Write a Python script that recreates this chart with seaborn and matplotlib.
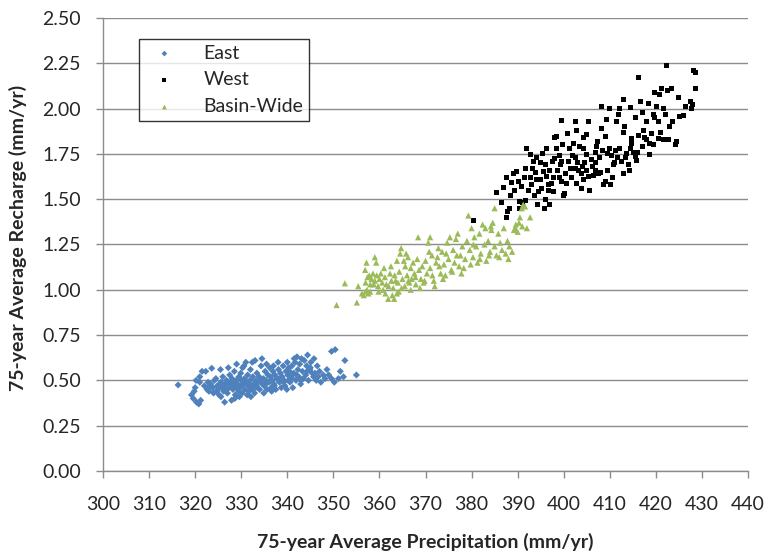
import matplotlib
matplotlib.use("Agg")
import matplotlib.pyplot as plt
import seaborn as sns
import pandas as pd

# East sub-basin: precipitation (mm/yr), recharge (mm/yr)
east_points = [
    (316.3, 0.475), (319.2, 0.42), (319.6, 0.40), (320.3, 0.38), (320.8, 0.37), (321.2, 0.39), (320.0, 0.46),
    (319.8, 0.44), (320.2, 0.50), (321.0, 0.52), (321.5, 0.55), (322.3, 0.55), (321.0, 0.49), (322.0, 0.47),
    (322.6, 0.45), (322.8, 0.49), (323.0, 0.44), (323.4, 0.48), (323.6, 0.567), (323.8, 0.46), (324.0, 0.43),
    (324.2, 0.50), (324.5, 0.51), (324.8, 0.47), (325.0, 0.45), (325.2, 0.42), (325.5, 0.56), (325.6, 0.49),
    (325.9, 0.46), (326.0, 0.52), (326.2, 0.44), (326.4, 0.38), (326.6, 0.48), (326.8, 0.50), (327.0, 0.43),
    (327.2, 0.57), (327.3, 0.46), (327.5, 0.53), (327.7, 0.49), (327.9, 0.39), (328.0, 0.51), (328.2, 0.45),
    (328.4, 0.47), (328.5, 0.55), (328.7, 0.42), (328.9, 0.50), (329.0, 0.59), (329.2, 0.48), (329.4, 0.44),
    (329.5, 0.52), (329.7, 0.46), (329.9, 0.54), (330.0, 0.50), (330.2, 0.43), (330.3, 0.57), (330.5, 0.48),
    (330.7, 0.51), (330.8, 0.45), (331.0, 0.60), (331.2, 0.49), (331.4, 0.53), (331.5, 0.47), (331.7, 0.44),
    (331.9, 0.50), (332.0, 0.56), (332.2, 0.46), (332.4, 0.60), (332.5, 0.52), (332.7, 0.48), (332.9, 0.43),
    (333.0, 0.61), (333.2, 0.50), (333.4, 0.54), (333.5, 0.46), (333.7, 0.49), (333.9, 0.52), (334.0, 0.45),
    (334.3, 0.58), (334.5, 0.62), (334.6, 0.48), (334.8, 0.51), (335.0, 0.47), (335.2, 0.55), (335.4, 0.50),
    (335.6, 0.45), (335.8, 0.53), (336.0, 0.49), (336.2, 0.57), (336.4, 0.52), (336.5, 0.46), (336.7, 0.50),
    (336.9, 0.55), (337.1, 0.48), (337.3, 0.53), (337.5, 0.45), (337.7, 0.51), (338.0, 0.60), (338.1, 0.56),
    (338.3, 0.49), (338.5, 0.54), (338.7, 0.46), (338.9, 0.52), (339.1, 0.58), (339.3, 0.50), (339.5, 0.47),
    (339.7, 0.55), (339.9, 0.45), (340.1, 0.53), (340.3, 0.57), (340.5, 0.55), (340.6, 0.49), (340.8, 0.52),
    (341.0, 0.58), (341.2, 0.46), (341.4, 0.54), (341.7, 0.60), (341.9, 0.50), (342.1, 0.63), (342.3, 0.56),
    (342.5, 0.52), (342.7, 0.59), (342.9, 0.48), (343.1, 0.62), (343.3, 0.55), (343.5, 0.51), (343.7, 0.61),
    (344.0, 0.53), (344.2, 0.58), (344.4, 0.64), (344.6, 0.50), (344.9, 0.56), (345.1, 0.60), (345.4, 0.54),
    (345.7, 0.52), (346.0, 0.54), (346.3, 0.50), (346.7, 0.52), (347.0, 0.55), (347.3, 0.49), (347.8, 0.53),
    (348.2, 0.51), (348.6, 0.56), (349.0, 0.53), (349.6, 0.51), (349.6, 0.66), (350.4, 0.67), (350.2, 0.49),
    (351.1, 0.51), (351.5, 0.55), (352.2, 0.52), (352.5, 0.61), (355.0, 0.53),
    (323.2, 0.47), (324.6, 0.44), (325.3, 0.48), (326.1, 0.47), (326.9, 0.45), (327.6, 0.48), (328.3, 0.49),
    (329.1, 0.46), (330.1, 0.47), (330.9, 0.49), (331.8, 0.48), (332.6, 0.45), (333.3, 0.47), (334.2, 0.50),
    (335.3, 0.48), (336.3, 0.50), (337.2, 0.47), (338.2, 0.51), (339.2, 0.49), (340.2, 0.50), (341.1, 0.51),
    (342.0, 0.53), (343.0, 0.50), (344.3, 0.55), (345.0, 0.57), (346.5, 0.58), (345.8, 0.62), (341.5, 0.62),
    (340.0, 0.60), (337.0, 0.58), (335.5, 0.59), (330.6, 0.58), (325.6, 0.41), (328.6, 0.40), (329.6, 0.41),
    (331.3, 0.42), (332.1, 0.41), (334.9, 0.43), (336.6, 0.44),
]

# West sub-basin
west_points = [
    (380.4, 1.385), (387.6, 1.40), (387.9, 1.43), (388.3, 1.45), (390.5, 1.45), (385.5, 1.536), (386.9, 1.566),
    (387.6, 1.62), (388.7, 1.59), (389.0, 1.64), (389.8, 1.652), (390.2, 1.60), (390.5, 1.49), (391.0, 1.48),
    (391.6, 1.495), (390.9, 1.57), (391.5, 1.62), (392.0, 1.78), (392.3, 1.55), (392.7, 1.744), (393.0, 1.58),
    (393.4, 1.707), (393.8, 1.645), (394.1, 1.606), (394.4, 1.47), (394.6, 1.54), (394.9, 1.70), (395.2, 1.56),
    (395.6, 1.652), (395.9, 1.45), (396.0, 1.50), (396.3, 1.624), (396.3, 1.78), (396.8, 1.55), (397.0, 1.47),
    (397.4, 1.588), (397.7, 1.54), (398.1, 1.726), (398.1, 1.84), (398.5, 1.845), (398.5, 1.78), (399.0, 1.62),
    (399.3, 1.69), (399.6, 1.707), (399.6, 1.597), (399.6, 1.937), (399.8, 1.80), (400.0, 1.52), (400.2, 1.53),
    (400.6, 1.588), (401.0, 1.707), (401.2, 1.78), (401.4, 1.67), (401.8, 1.74), (402.2, 1.81), (402.5, 1.67),
    (402.5, 1.928), (402.5, 1.73), (402.8, 1.588), (402.8, 1.88), (403.2, 1.66), (403.5, 1.79), (403.9, 1.643),
    (404.2, 1.78), (404.3, 1.606), (404.6, 1.70), (405.0, 1.66), (405.0, 1.855), (405.0, 1.745), (405.3, 1.624),
    (405.3, 1.93), (405.7, 1.55), (406.2, 1.68), (406.8, 1.66), (406.8, 1.76), (407.2, 1.79), (407.5, 1.643),
    (407.8, 1.73), (408.2, 1.89), (408.2, 2.01), (408.5, 1.77), (409.0, 1.597), (409.0, 1.845), (409.3, 1.94),
    (409.5, 1.75), (410.0, 2.00), (410.0, 1.78), (410.4, 1.74), (410.8, 1.69), (411.2, 1.77), (411.5, 1.93),
    (411.6, 1.73), (411.9, 1.965), (412.2, 1.78), (412.2, 2.00), (412.6, 1.71), (412.9, 1.87), (412.9, 2.05),
    (412.9, 1.643), (413.3, 1.90), (413.7, 1.753), (414.0, 1.69), (414.4, 1.78), (414.4, 2.005), (414.7, 1.835),
    (414.8, 1.81), (415.2, 1.76), (415.5, 1.735), (415.5, 1.95), (415.8, 1.716), (416.2, 1.854), (416.2, 2.17),
    (416.6, 2.04), (417.0, 1.79), (417.4, 1.88), (418.0, 1.93), (418.0, 1.827), (418.4, 2.03), (418.7, 1.808),
    (418.7, 1.744), (419.1, 1.864), (419.4, 1.97), (419.8, 1.95), (419.8, 2.09), (420.2, 2.01), (420.5, 1.836),
    (420.8, 2.08), (421.2, 2.11), (421.6, 2.00), (421.6, 1.827), (422.0, 1.965), (422.3, 2.237), (422.6, 2.10),
    (423.0, 1.90), (423.5, 2.11), (423.7, 1.93), (424.2, 1.80), (425.0, 2.06), (425.2, 1.955), (427.5, 2.04),
    (427.8, 2.00), (428.0, 2.02), (428.1, 2.21), (428.5, 2.20), (428.5, 2.11),
    (393.2, 1.67), (394.0, 1.73), (395.0, 1.61), (396.0, 1.69), (397.0, 1.66), (397.8, 1.62), (398.6, 1.66),
    (399.0, 1.74), (400.4, 1.64), (401.6, 1.62), (403.0, 1.70), (404.0, 1.68), (406.0, 1.72), (406.5, 1.63),
    (407.0, 1.70), (408.0, 1.65), (409.6, 1.66), (410.6, 1.62), (411.0, 1.70), (413.5, 1.73), (414.2, 1.66),
    (416.0, 1.76), (417.5, 1.84), (419.5, 1.80), (421.0, 1.87), (422.8, 1.83), (424.5, 1.82), (426.0, 1.96),
    (426.5, 2.01), (420.5, 1.93), (417.0, 1.98), (407.4, 1.82), (404.4, 1.84), (400.8, 1.86), (397.6, 1.71),
    (395.4, 1.75), (392.8, 1.62), (391.8, 1.67), (389.4, 1.55), (388.4, 1.52), (386.6, 1.48), (393.6, 1.52),
    (396.6, 1.58), (403.8, 1.56), (410.2, 1.58), (408.6, 1.58),
]

# Whole basin
basin_points = [
    (350.7, 0.916), (352.5, 1.036), (355.1, 0.93), (355.4, 1.02), (356.2, 0.98), (356.6, 0.97), (357.0, 0.99),
    (357.6, 0.98), (358.0, 0.99), (357.3, 1.00), (356.9, 1.11), (357.2, 1.15), (359.0, 1.18), (359.3, 1.15),
    (357.4, 1.07), (357.8, 1.08), (358.3, 1.06), (358.6, 1.09), (359.0, 1.05), (359.4, 1.08), (359.7, 1.02),
    (360.0, 1.06), (360.3, 1.09), (360.6, 1.04), (361.0, 1.12), (361.2, 1.07), (361.5, 1.03), (361.9, 0.95),
    (362.3, 1.09), (362.6, 1.05), (363.0, 1.01), (363.3, 1.08), (363.8, 0.98), (364.0, 1.04), (364.3, 1.10),
    (364.5, 1.20), (364.7, 1.23), (365.0, 1.06), (365.3, 1.16), (365.5, 1.02), (365.8, 1.20), (366.0, 1.08),
    (366.2, 1.18), (366.5, 1.04), (366.8, 1.12), (367.0, 1.06), (367.3, 1.15), (367.6, 1.09), (367.9, 1.03),
    (368.2, 1.17), (368.4, 1.29), (368.6, 1.11), (369.0, 1.06), (369.3, 1.13), (369.6, 1.04), (370.0, 1.16),
    (370.3, 1.09), (370.6, 1.26), (371.0, 1.29), (371.0, 1.12), (371.4, 1.19), (371.8, 1.05), (372.0, 1.02),
    (372.3, 1.15), (372.6, 1.18), (373.0, 1.13), (373.3, 1.09), (373.6, 1.21), (374.0, 1.14), (374.3, 1.08),
    (374.7, 1.26), (375.0, 1.17), (375.3, 1.29), (375.6, 1.11), (376.0, 1.22), (376.3, 1.15), (376.6, 1.28),
    (377.0, 1.31), (377.3, 1.13), (377.6, 1.19), (378.0, 1.24), (378.3, 1.12), (378.6, 1.17), (379.0, 1.27),
    (379.3, 1.41), (379.6, 1.22), (380.0, 1.34), (380.3, 1.18), (380.6, 1.29), (381.0, 1.24), (381.3, 1.15),
    (381.7, 1.31), (382.0, 1.20), (382.4, 1.36), (382.8, 1.25), (383.2, 1.16), (383.6, 1.27), (384.0, 1.21),
    (384.3, 1.33), (384.6, 1.37), (385.0, 1.45), (385.0, 1.24), (385.4, 1.19), (385.8, 1.31), (386.2, 1.26),
    (386.6, 1.22), (387.0, 1.34), (387.4, 1.20), (387.8, 1.27), (388.2, 1.24), (388.8, 1.21), (389.2, 1.33),
    (389.6, 1.36), (390.0, 1.32), (390.5, 1.40), (390.9, 1.45), (391.2, 1.47), (391.6, 1.46), (392.0, 1.34),
    (392.7, 1.40), (383.0, 1.34), (384.2, 1.35), (389.5, 1.34), (391.0, 1.35), (390.3, 1.37),
    (358.8, 1.03), (360.8, 1.00), (362.0, 1.02), (363.5, 1.05), (364.8, 1.01), (366.3, 1.05), (367.8, 1.07),
    (369.8, 1.05), (371.5, 1.08), (373.8, 1.06), (375.8, 1.10), (377.8, 1.09), (379.8, 1.14), (381.8, 1.17),
    (383.8, 1.19), (386.0, 1.18), (388.0, 1.17), (362.5, 1.13), (363.8, 1.16), (365.6, 1.13), (370.8, 1.21),
    (372.8, 1.23), (374.5, 1.20), (376.8, 1.19), (380.4, 1.25), (357.0, 1.04), (358.0, 1.03), (359.8, 0.99),
    (361.3, 0.98), (362.8, 0.97), (363.2, 0.95), (364.2, 0.99), (366.8, 1.00), (368.8, 1.01),
]

series_names = ["East", "West", "Basin-Wide"]
x_ticks = list(range(300, 441, 10))
y_ticks = [0.00, 0.25, 0.50, 0.75, 1.00, 1.25, 1.50, 1.75, 2.00, 2.25, 2.50]

frames = []
for name, pts in zip(series_names, [east_points, west_points, basin_points]):
    frames.append(pd.DataFrame({"precip": [p for p, _ in pts],
                                "recharge": [r for _, r in pts],
                                "series": name}))
df = pd.concat(frames, ignore_index=True)

sns.set_theme(style="white")
plt.rcParams["font.family"] = ["Lato", "DejaVu Sans"]

fig = plt.figure(figsize=(7.65, 5.54), dpi=100)
ax = fig.add_axes([103 / 765, 1 - 471 / 554, 645 / 765, 453 / 554])

styles = {
    "East": dict(marker="D", color="#4F81BD", s=13),
    "West": dict(marker="s", color="#000000", s=13),
    "Basin-Wide": dict(marker="^", color="#9BBB59", s=20),
}
for name in series_names:
    st = styles[name]
    sns.scatterplot(data=df[df["series"] == name], x="precip", y="recharge",
                    marker=st["marker"], color=st["color"], s=st["s"],
                    linewidth=0, edgecolor="none", label=name, ax=ax, zorder=3)

ax.set_xlim(300, 440)
ax.set_ylim(0, 2.5)
ax.set_xticks(x_ticks)
ax.set_xticklabels([str(v) for v in x_ticks])
ax.set_yticks(y_ticks)
ax.set_yticklabels([f"{v:.2f}" for v in y_ticks])

grid_color = "#8C8C8C"
ax.yaxis.grid(True, color=grid_color, linewidth=1.0)
ax.xaxis.grid(False)
ax.set_axisbelow(True)
for side in ["top", "right"]:
    ax.spines[side].set_visible(False)
for side in ["left", "bottom"]:
    ax.spines[side].set_color(grid_color)
    ax.spines[side].set_linewidth(1.0)

ax.tick_params(axis="x", direction="out", length=5, width=1, color=grid_color,
               labelsize=14, pad=13, bottom=True)
ax.tick_params(axis="y", direction="out", length=5, width=1, color=grid_color,
               labelsize=14, pad=11, left=True)

ax.set_xlabel("75-year Average Precipitation (mm/yr)", fontsize=14, fontweight="bold", labelpad=14)
ax.set_ylabel("75-year Average Recharge (mm/yr)", fontsize=14, fontweight="bold")
ax.yaxis.set_label_coords((27 - 103) / 645, 0.515)

leg = ax.legend(loc="upper left", bbox_to_anchor=(0.056, 0.954), borderaxespad=0,
                frameon=True, fontsize=14, markerscale=0.8, handletextpad=1.0,
                borderpad=0.3, labelspacing=0.5, handlelength=2.0, fancybox=False)
leg.get_frame().set_edgecolor("#000000")
leg.get_frame().set_linewidth(1.0)

fig.savefig("out.png", dpi=100)
